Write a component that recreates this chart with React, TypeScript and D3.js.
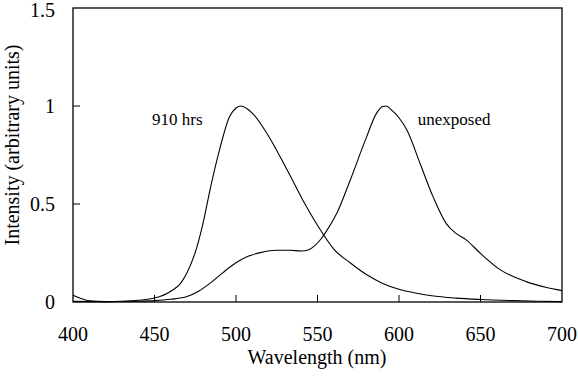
import React from "react";
import * as d3 from "d3";

const wl910 = [400, 405, 410, 420, 430, 440, 450, 460, 466, 470, 476, 480, 484, 490, 496, 500, 503, 507, 511, 519, 531, 543, 552, 560, 570, 580, 590, 600, 610, 620, 635, 650, 670, 685, 700];
const int910 = [0.035, 0.018, 0.006, 0.002, 0.004, 0.009, 0.02, 0.055, 0.095, 0.15, 0.28, 0.41, 0.57, 0.78, 0.945, 0.99, 1.0, 0.985, 0.955, 0.86, 0.68, 0.49, 0.365, 0.27, 0.2, 0.14, 0.095, 0.065, 0.046, 0.032, 0.02, 0.013, 0.007, 0.004, 0.002];

const wlUnexp = [400, 420, 440, 450, 460, 470, 477, 484, 492, 500, 507, 515, 525, 533, 540, 545, 548, 552, 555, 562, 570, 580, 586, 590, 592, 596, 600, 605, 613, 621, 629, 635, 641, 650, 662, 678, 690, 700];
const intUnexp = [0.003, 0.002, 0.004, 0.007, 0.014, 0.028, 0.055, 0.095, 0.15, 0.2, 0.232, 0.252, 0.264, 0.264, 0.26, 0.268, 0.285, 0.32, 0.355, 0.455, 0.62, 0.84, 0.96, 0.997, 1.0, 0.975, 0.94, 0.875, 0.705, 0.535, 0.4, 0.35, 0.318, 0.248, 0.165, 0.104, 0.075, 0.058];

const xTicks = [400, 450, 500, 550, 600, 650, 700];
const yTicks = [0, 0.5, 1, 1.5];
const yTickLabels = ["0", "0.5", "1", "1.5"];

const seriesLabels = [
  { text: "910 hrs", wl: 448.5, v: 0.9 },
  { text: "unexposed", wl: 611.5, v: 0.9 },
];

export default function App() {
  const W = 578, H = 381;
  const left = 73, right = 562, top = 8, bottom = 302;
  const x = d3.scaleLinear().domain([400, 700]).range([left, right]);
  const y = d3.scaleLinear().domain([0, 1.5]).range([bottom, top]);
  const line = d3
    .line<[number, number]>()
    .x((d) => x(d[0]))
    .y((d) => y(d[1]))
    .curve(d3.curveMonotoneX);
  const d910 = line(wl910.map((w, i) => [w, int910[i]] as [number, number])) || "";
  const dUn = line(wlUnexp.map((w, i) => [w, intUnexp[i]] as [number, number])) || "";
  const font = "Liberation Serif, Tinos, Times New Roman, Times, Nimbus Roman, Noto Serif, DejaVu Serif, FreeSerif, serif";
  const ts: React.CSSProperties = { fontFamily: font };
  const tickLen = 7;
  return (
    <svg width={W} height={H} style={{ position: "absolute", left: 0, top: 0, background: "#fff" }}>
      <rect x={0} y={0} width={W} height={H} fill="#fff" />
      <path d={d910} fill="none" stroke="#000" strokeWidth={1.1} />
      <path d={dUn} fill="none" stroke="#000" strokeWidth={1.1} />
      <rect x={left} y={top} width={right - left} height={bottom - top} fill="none" stroke="#000" strokeWidth={1.3} />
      {xTicks.map((t) => (
        <g key={"x" + t}>
          {t > 400 && t < 700 && (
            <line x1={x(t)} x2={x(t)} y1={bottom} y2={bottom - tickLen} stroke="#000" strokeWidth={1} />
          )}
          <text x={x(t)} y={341} textAnchor="middle" fontSize={20} fill="#000" style={ts}>
            {t}
          </text>
        </g>
      ))}
      {yTicks.map((t, i) => (
        <g key={"y" + t}>
          {t > 0 && t < 1.5 && (
            <line x1={left} x2={left + tickLen} y1={y(t)} y2={y(t)} stroke="#000" strokeWidth={1} />
          )}
          <text x={55} y={Math.max(y(t) + 7, 17)} textAnchor="end" fontSize={20} fill="#000" style={ts}>
            {yTickLabels[i]}
          </text>
        </g>
      ))}
      <text x={317} y={364} textAnchor="middle" fontSize={20} fill="#000" style={ts}>
        Wavelength (nm)
      </text>
      <text transform="translate(19,145) rotate(-90)" textAnchor="middle" fontSize={20} fill="#000" style={ts}>
        Intensity (arbitrary units)
      </text>
      {seriesLabels.map((l) => (
        <text key={l.text} x={x(l.wl)} y={125} fontSize={17} fill="#000" style={ts}>
          {l.text}
        </text>
      ))}
    </svg>
  );
}
